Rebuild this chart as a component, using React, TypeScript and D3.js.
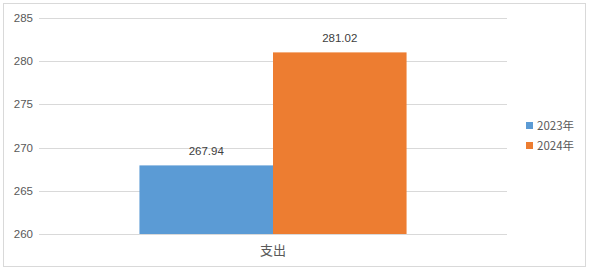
import React from "react";
import * as d3 from "d3";

const categories = ["支出"];
const seriesNames = ["2023年", "2024年"];
const values2023 = [267.94];
const values2024 = [281.02];
const yTicks = [260, 265, 270, 275, 280, 285];
const colors = ["#5B9BD5", "#ED7D31"];

export default function App() {
  const W = 591, H = 271;
  const plot = { left: 39, right: 507, top: 18, bottom: 234 };
  const y = d3.scaleLinear().domain([260, 285]).range([plot.bottom, plot.top]);
  const x0 = d3.scaleBand().domain(categories).range([plot.left, plot.right]).paddingInner(0).paddingOuter(0.376);
  const series = [values2023, values2024];
  const x1 = d3.scaleBand().domain(seriesNames).range([0, x0.bandwidth()]).padding(0);
  const font = "'Liberation Sans', Arial, sans-serif";
  const cjk = "'Noto Sans CJK SC', 'Liberation Sans', sans-serif";
  return (
    <svg width={W} height={H} style={{ position: "fixed", left: 0, top: 0 }} fontFamily={font}>
      <rect x={0} y={0} width={W} height={H} fill="#fff" />
      <rect x={3.5} y={3.5} width={582} height={263} fill="#fff" stroke="#d9d9d9" strokeWidth={1} />
      {yTicks.map((t) => (
        <g key={t}>
          <line x1={plot.left} x2={plot.right} y1={Math.round(y(t)) + 0.5} y2={Math.round(y(t)) + 0.5} stroke="#d9d9d9" strokeWidth={1} />
          <text x={33} y={y(t)} dy="0.35em" textAnchor="end" fontSize={11.5} fill="#595959">{t}</text>
        </g>
      ))}
      {categories.map((c, ci) => (
        <g key={c}>
          {seriesNames.map((s, si) => {
            const v = series[si][ci];
            const bx = (x0(c) ?? 0) + (x1(s) ?? 0);
            return (
              <g key={s}>
                <rect x={bx} y={y(v)} width={x1.bandwidth()} height={y(260) - y(v)} fill={colors[si]} />
                <text x={bx + x1.bandwidth() / 2} y={y(v) - 10} textAnchor="middle" fontSize={11.5} fill="#404040">{v.toFixed(2)}</text>
              </g>
            );
          })}
          <text x={(x0(c) ?? 0) + x0.bandwidth() / 2} y={250} dy="0.35em" textAnchor="middle" fontSize={13} fill="#595959" fontFamily={cjk}>{c}</text>
        </g>
      ))}
      {seriesNames.map((s, si) => (
        <g key={s} transform={`translate(526, ${122 + si * 20})`}>
          <rect x={0} y={0} width={7} height={7} fill={colors[si]} />
          <text x={11} y={3.5} dy="0.35em" fontSize={11.5} fill="#595959" fontFamily={cjk}>{s}</text>
        </g>
      ))}
    </svg>
  );
}
